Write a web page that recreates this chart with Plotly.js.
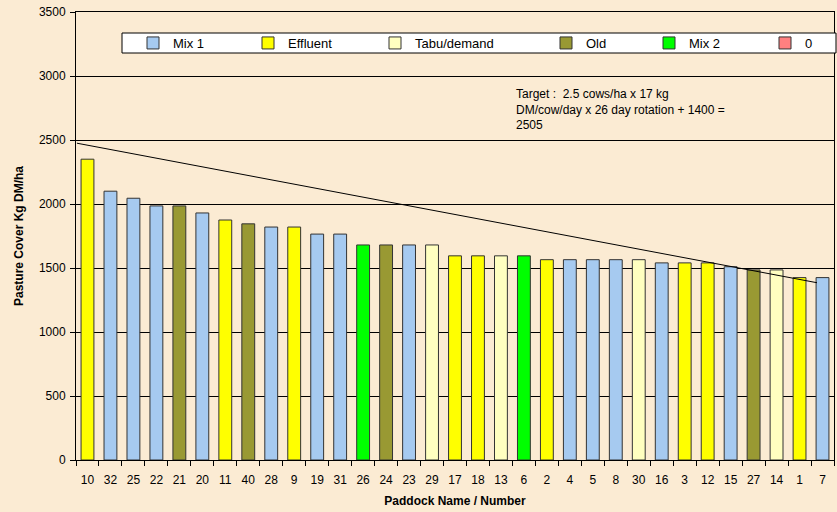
<!DOCTYPE html>
<html>
<head>
<meta charset="utf-8">
<script src="https://cdn.plot.ly/plotly-3.0.1.min.js"></script>
<style>html,body{margin:0;padding:0;background:#FBEBD3;}#chart{width:837px;height:512px;}</style>
</head>
<body>
<div id="chart"></div>
<script>
// ---- data ----
var paddocks = ["10","32","25","22","21","20","11","40","28","9","19","31","26","24","23","29","17","18","13","6","2","4","5","8","30","16","3","12","15","27","14","1","7"];
var cover    = [2350,2100,2045,1985,1985,1930,1875,1845,1820,1820,1765,1765,1680,1680,1680,1680,1595,1595,1595,1595,1565,1565,1565,1565,1565,1540,1540,1540,1510,1485,1485,1425,1425];
var grassType = ["Effluent","Mix 1","Mix 1","Mix 1","Old","Mix 1","Effluent","Old","Mix 1","Effluent","Mix 1","Mix 1","Mix 2","Old","Mix 1","Tabu/demand","Effluent","Effluent","Tabu/demand","Mix 2","Effluent","Mix 1","Mix 1","Mix 1","Tabu/demand","Mix 1","Effluent","Effluent","Mix 1","Old","Tabu/demand","Effluent","Mix 1"];
var seriesNames = ["Mix 1","Effluent","Tabu/demand","Old","Mix 2","0"];
var seriesColors = ["#A6CAF0","#FFFF00","#FFFFC0","#999933","#00FF00","#FF8080"];
// target line endpoints (category-index position, kg DM/ha)
var targetX = [-0.46, 31.76];
var targetY = [2475, 1385];
var targetText = "Target :  2.5 cows/ha x 17 kg<br>DM/cow/day x 26 day rotation + 1400 =<br>2505";

// ---- layout helpers ----
var FONT = "Liberation Sans, Arial, sans-serif";
var legendTextPx = [173, 288, 415, 586, 689, 805];
var plotL = 76, plotW = 758;

var traces = [];
seriesNames.forEach(function(name, i){
  var xs = [], ys = [];
  paddocks.forEach(function(p, j){ if (grassType[j] === name) { xs.push(p); ys.push(cover[j]); } });
  if (xs.length === 0) { xs = [paddocks[0]]; ys = [null]; } // series with no paddocks: keep its legend entry
  traces.push({
    type: "bar", name: name, x: xs, y: ys,
    width: 0.56, showlegend: true,
    marker: {color: seriesColors[i], line: {color: "#333333", width: 1}},
    legend: i === 0 ? "legend" : "legend" + (i + 1),
    hoverinfo: "x+y+name"
  });
});
traces.push({
  type: "scatter", mode: "lines", x: targetX, y: targetY, xaxis: "x2", yaxis: "y",
  line: {color: "#000000", width: 1}, showlegend: false, hoverinfo: "skip"
});

var layout = {
  width: 837, height: 512,
  margin: {l: plotL, r: 3, t: 12, b: 52},
  paper_bgcolor: "#FBEBD3", plot_bgcolor: "#FBEBD3",
  font: {family: FONT, size: 12, color: "#000"},
  barmode: "overlay",
  showlegend: true,
  xaxis: {
    type: "category", categoryorder: "array", categoryarray: paddocks,
    range: [-0.5, paddocks.length - 0.5],
    showline: true, linecolor: "#000", linewidth: 1, mirror: true,
    ticks: "outside", tickson: "boundaries", ticklen: 5, tickcolor: "#000",
    ticklabelstandoff: 9,
    showgrid: false, zeroline: false,
    tickfont: {family: FONT, size: 12, color: "#000"},
    title: {text: "Paddock Name / Number", font: {family: FONT, size: 12, color: "#000", weight: "bold"}, standoff: 10}
  },
  xaxis2: {overlaying: "x", range: [-0.5, paddocks.length - 0.5], visible: false},
  yaxis: {
    range: [0, 3500], dtick: 500, tick0: 0,
    showline: true, linecolor: "#000", linewidth: 1, mirror: true,
    ticks: "outside", ticklen: 5, tickcolor: "#000",
    ticklabelstandoff: 2,
    showgrid: true, gridcolor: "#000", gridwidth: 1, zeroline: false,
    tickfont: {family: FONT, size: 12, color: "#000"},
    title: {text: "Pasture Cover Kg DM/ha", font: {family: FONT, size: 12, color: "#000", weight: "bold"}, standoff: 12}
  },
  shapes: [{
    type: "rect", xref: "paper", yref: "paper",
    x0: (122 - plotL) / plotW, x1: (836 - plotL) / plotW,
    y0: (460 - 53) / 448, y1: (460 - 33) / 448,
    fillcolor: "#FFFFFF", line: {color: "#000", width: 1}, layer: "above"
  }],
  annotations: [{
    xref: "paper", yref: "paper", x: (514 - plotL) / plotW, y: (460 - 85) / 448,
    xanchor: "left", yanchor: "top", align: "left", showarrow: false,
    text: targetText, font: {family: FONT, size: 12, color: "#000"}
  }]
};
seriesNames.forEach(function(name, i){
  var key = i === 0 ? "legend" : "legend" + (i + 1);
  layout[key] = {
    visible: true,
    orientation: "h", xanchor: "left", yanchor: "middle",
    x: (legendTextPx[i] - 40 - plotL) / plotW, y: (460 - 43) / 448,
    bgcolor: "rgba(0,0,0,0)", borderwidth: 0,
    font: {family: FONT, size: 13, color: "#000"}
  };
});

Plotly.newPlot("chart", traces, layout, {displayModeBar: false, staticPlot: true});
</script>
</body>
</html>
